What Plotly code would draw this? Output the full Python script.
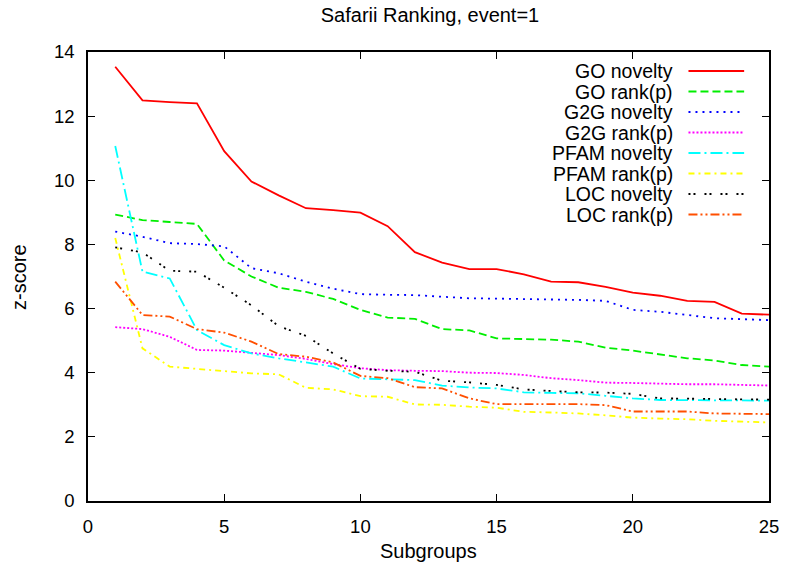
import plotly.graph_objects as go

subgroups = list(range(1, 26))
go_novelty = [13.54, 12.49, 12.44, 12.40, 10.91, 9.96, 9.53, 9.13, 9.07, 8.99, 8.57, 7.76, 7.43,
              7.23, 7.23, 7.07, 6.84, 6.82, 6.68, 6.50, 6.40, 6.24, 6.21, 5.84, 5.81]
go_rank = [8.93, 8.76, 8.70, 8.64, 7.50, 7.00, 6.65, 6.52, 6.30, 5.96, 5.72, 5.68, 5.36,
           5.32, 5.07, 5.06, 5.03, 4.97, 4.78, 4.69, 4.58, 4.45, 4.38, 4.24, 4.19]
g2g_novelty = [8.40, 8.24, 8.04, 8.01, 7.94, 7.26, 7.10, 6.84, 6.62, 6.45, 6.43, 6.42, 6.37,
               6.32, 6.31, 6.30, 6.29, 6.27, 6.24, 5.96, 5.90, 5.79, 5.70, 5.67, 5.64]
g2g_rank = [5.42, 5.36, 5.12, 4.71, 4.69, 4.63, 4.55, 4.43, 4.27, 4.14, 4.08, 4.06, 4.05,
            4.00, 3.99, 3.93, 3.83, 3.77, 3.69, 3.68, 3.65, 3.64, 3.64, 3.63, 3.60]
pfam_novelty = [11.07, 7.15, 6.94, 5.33, 4.86, 4.60, 4.45, 4.31, 4.19, 3.82, 3.79, 3.77, 3.60,
                3.54, 3.51, 3.39, 3.37, 3.36, 3.28, 3.20, 3.15, 3.15, 3.15, 3.14, 3.13]
pfam_rank = [8.20, 4.76, 4.19, 4.12, 4.03, 3.98, 3.95, 3.53, 3.48, 3.27, 3.25, 3.01, 3.00,
             2.94, 2.91, 2.78, 2.76, 2.73, 2.67, 2.60, 2.57, 2.55, 2.50, 2.48, 2.45]
loc_novelty = [7.91, 7.75, 7.18, 7.15, 6.65, 6.10, 5.45, 5.15, 4.60, 4.12, 4.06, 4.03, 3.75,
               3.70, 3.62, 3.48, 3.43, 3.39, 3.38, 3.34, 3.20, 3.19, 3.18, 3.17, 3.16]
loc_rank = [6.84, 5.80, 5.75, 5.36, 5.25, 4.97, 4.58, 4.50, 4.32, 3.90, 3.83, 3.55, 3.51,
            3.20, 3.02, 3.02, 3.02, 3.02, 2.99, 2.79, 2.79, 2.79, 2.73, 2.71, 2.71]

series_names = ["GO novelty", "GO rank(p)", "G2G novelty", "G2G rank(p)",
                "PFAM novelty", "PFAM rank(p)", "LOC novelty", "LOC rank(p)"]
series_values = [go_novelty, go_rank, g2g_novelty, g2g_rank,
                 pfam_novelty, pfam_rank, loc_novelty, loc_rank]
colors = ["#ff0000", "#00ee00", "#0000ff", "#ff00ff", "#00ffff", "#ffff00", "#000000", "#ff4f00"]
dashes = ["solid", "8px,4px", "2px,5px", "2px,2px", "12px,4px,2px,4px",
          "6px,4px,2px,4px", "2px,3px,2px,9px", "9px,3px,2px,3px,2px,3px"]

FONT = "Liberation Sans, Arial, sans-serif"

fig = go.Figure()
for name, vals, c, d in zip(series_names, series_values, colors, dashes):
    fig.add_trace(go.Scatter(x=subgroups, y=vals, mode="lines", name=name,
                             line=dict(color=c, width=1.8, dash=d), showlegend=False))

# gnuplot-style legend: right-aligned text, line sample on the right
x_text = (678 - 88) / 685
x0 = (692 - 88) / 685
x1 = (748 - 88) / 685
shapes = []
annotations = []
for i, (name, c, d) in enumerate(zip(series_names, colors, dashes)):
    ypix = 71 + 20.5 * i
    yp = (501 - ypix) / 449
    annotations.append(dict(x=x_text, y=yp, xref="paper", yref="paper", text=name,
                            showarrow=False, xanchor="right", yanchor="middle",
                            font=dict(family=FONT, size=19.5, color="black")))
    shapes.append(dict(type="line", xref="paper", yref="paper", x0=x0, x1=x1, y0=yp, y1=yp,
                       line=dict(color=c, width=1.8, dash=d)))

annotations.append(dict(x=0.5, y=(501 - 551) / 449, xref="paper", yref="paper", text="Subgroups",
                        showarrow=False, xanchor="center", yanchor="middle",
                        font=dict(family=FONT, size=20, color="black")))
annotations.append(dict(x=(18 - 88) / 685, y=0.5, xref="paper", yref="paper", text="z-score",
                        showarrow=False, xanchor="center", yanchor="middle", textangle=-90,
                        font=dict(family=FONT, size=20, color="black")))

axis_common = dict(showgrid=False, zeroline=False, showline=True, linecolor="black", linewidth=1.5,
                   mirror="allticks", ticks="inside", ticklen=7, tickwidth=1, tickcolor="black",
                   tickfont=dict(family=FONT, size=18.5, color="black"))

fig.update_layout(
    width=791, height=565,
    margin=dict(l=88, r=18, t=52, b=64),
    paper_bgcolor="white", plot_bgcolor="white",
    title=dict(text="Safarii Ranking, event=1", x=430 / 791, xanchor="center",
               y=1 - 15 / 565, yanchor="middle", font=dict(family=FONT, size=20, color="black")),
    xaxis=dict(range=[0, 25], tickmode="array", tickvals=[0, 5, 10, 15, 20, 25],
               ticklabelstandoff=8, **axis_common),
    yaxis=dict(range=[0, 14], tickmode="array", tickvals=[0, 2, 4, 6, 8, 10, 12, 14],
               ticklabelstandoff=8, **axis_common),
    shapes=shapes, annotations=annotations,
)

fig.write_html("out.html")
